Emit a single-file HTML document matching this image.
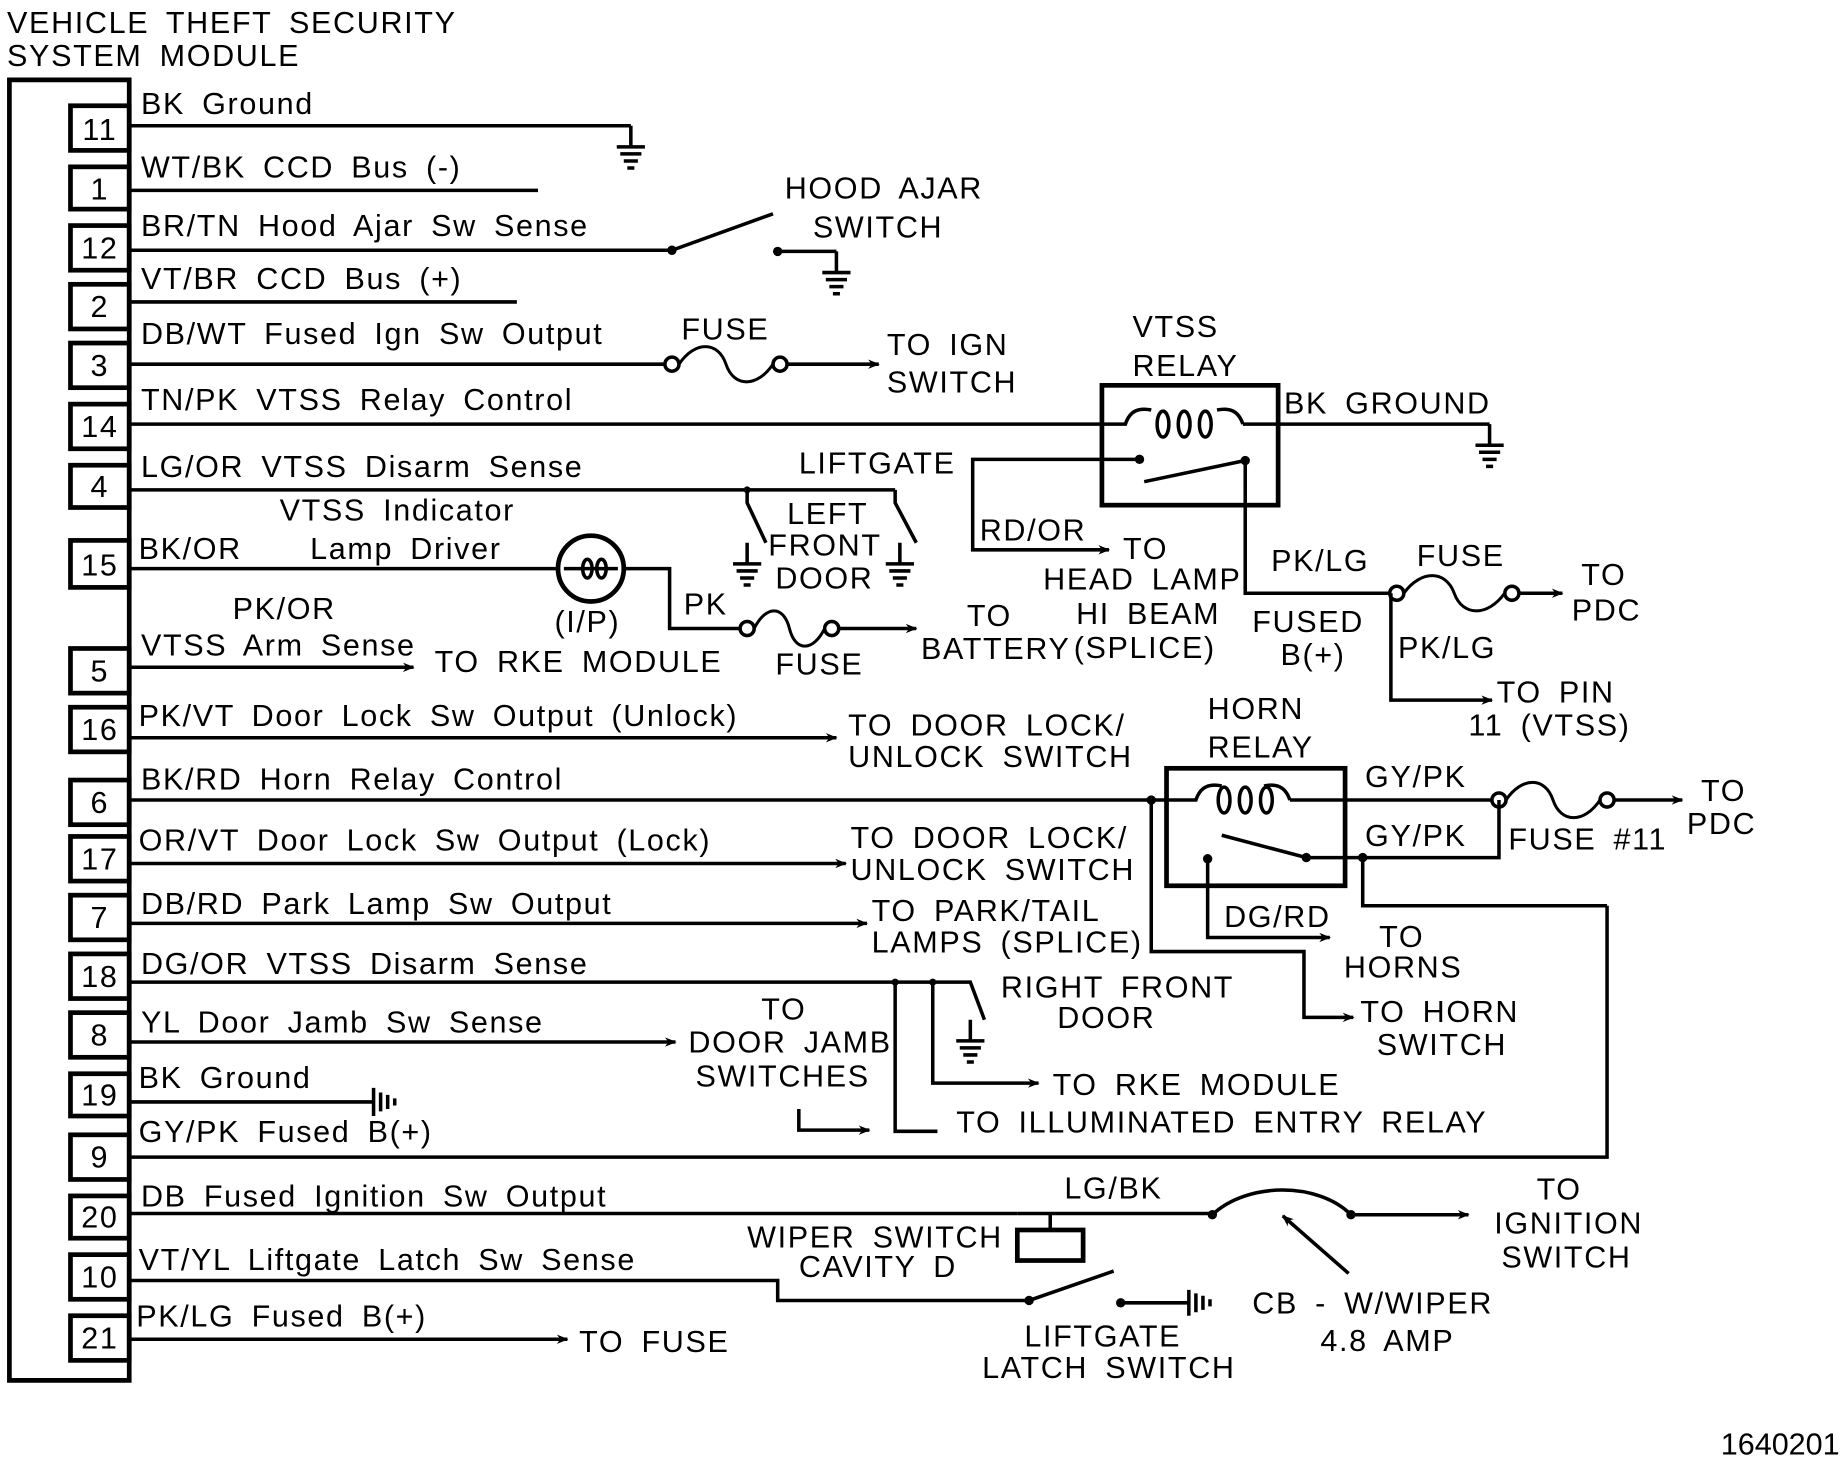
<!DOCTYPE html>
<html><head><meta charset="utf-8"><style>
html,body{margin:0;padding:0;background:#fff;}
svg{display:block}
text{font-family:"Liberation Sans",sans-serif;font-size:26px;fill:#000;letter-spacing:1.4px;word-spacing:6px}
.w{stroke:#000;stroke-width:3;fill:none}
.t{stroke:#000;stroke-width:4;fill:none}
.pn{font-size:26px;text-anchor:middle}
</style></head><body>
<svg width="1842" height="1472" viewBox="0 0 1568 1253" xmlns="http://www.w3.org/2000/svg">
<defs>
<marker id="a" markerWidth="10" markerHeight="8" refX="9" refY="4" orient="auto" markerUnits="userSpaceOnUse"><path d="M0,0 L10,4 L0,8 L3,4Z" fill="#000"/></marker>
<g id="gnd"><path class="w" d="M0,0 V18 M-12,18 H12 M-9,24 H9 M-6,30 H6 M-3,36 H3"/></g>
<g id="fuse"><path style="stroke:#000;stroke-width:3;fill:none;vector-effect:non-scaling-stroke" d="M0,0 c10,-20 25,-20 30,0 c5,20 20,20 30,0"/></g>
</defs>
<text x="6" y="28">VEHICLE THEFT SECURITY</text>
<text x="6" y="56">SYSTEM MODULE</text>
<path class="t" d="M8,68 H110 V1175 H8 Z"/>
<g class="t">
<rect x="60" y="90" width="50" height="38"/><rect x="60" y="142" width="50" height="36"/>
<rect x="60" y="192" width="50" height="38"/><rect x="60" y="242" width="50" height="38"/>
<rect x="60" y="292" width="50" height="38"/><rect x="60" y="344" width="50" height="38"/>
<rect x="60" y="396" width="50" height="36"/><rect x="60" y="460" width="50" height="40"/>
<rect x="60" y="552" width="50" height="38"/><rect x="60" y="602" width="50" height="38"/>
<rect x="60" y="664" width="50" height="38"/><rect x="60" y="712" width="50" height="38"/>
<rect x="60" y="762" width="50" height="38"/><rect x="60" y="812" width="50" height="38"/>
<rect x="60" y="862" width="50" height="38"/><rect x="60" y="914" width="50" height="36"/>
<rect x="60" y="966" width="50" height="38"/><rect x="60" y="1018" width="50" height="36"/>
<rect x="60" y="1068" width="50" height="38"/><rect x="60" y="1120" width="50" height="38"/>
</g>
<g class="pn">
<text x="85" y="119">11</text><text x="85" y="170">1</text><text x="85" y="220">12</text><text x="85" y="270">2</text>
<text x="85" y="320">3</text><text x="85" y="372">14</text><text x="85" y="423">4</text><text x="85" y="490">15</text>
<text x="85" y="580">5</text><text x="85" y="630">16</text><text x="85" y="692">6</text><text x="85" y="740">17</text>
<text x="85" y="790">7</text><text x="85" y="840">18</text><text x="85" y="890">8</text><text x="85" y="941">19</text>
<text x="85" y="994">9</text><text x="85" y="1045">20</text><text x="85" y="1096">10</text><text x="85" y="1148">21</text>
</g>
<text x="120" y="97">BK Ground</text>
<text x="120" y="151">WT/BK CCD Bus (-)</text>
<text x="120" y="201">BR/TN Hood Ajar Sw Sense</text>
<text x="120" y="246">VT/BR CCD Bus (+)</text>
<text x="120" y="293">DB/WT Fused Ign Sw Output</text>
<text x="120" y="349">TN/PK VTSS Relay Control</text>
<text x="120" y="406">LG/OR VTSS Disarm Sense</text>
<text x="238" y="443">VTSS Indicator</text>
<text x="118" y="476">BK/OR</text><text x="264" y="476">Lamp Driver</text>
<text x="198" y="527">PK/OR</text>
<text x="120" y="558">VTSS Arm Sense</text>
<text x="118" y="618">PK/VT Door Lock Sw Output (Unlock)</text>
<text x="120" y="672">BK/RD Horn Relay Control</text>
<text x="118" y="724">OR/VT Door Lock Sw  Output (Lock)</text>
<text x="120" y="778">DB/RD Park Lamp Sw Output</text>
<text x="120" y="829">DG/OR VTSS Disarm Sense</text>
<text x="120" y="879">YL Door Jamb Sw Sense</text>
<text x="118" y="926">BK Ground</text>
<text x="118" y="972">GY/PK Fused B(+)</text>
<text x="120" y="1027">DB Fused Ignition Sw Output</text>
<text x="118" y="1081">VT/YL Liftgate Latch Sw Sense</text>
<text x="116" y="1129">PK/LG Fused B(+)</text>
<path class="w" d="M110,107 H537"/><use href="#gnd" x="537" y="107"/>
<path class="w" d="M110,162 H458"/>
<path class="w" d="M110,213 H572 L658,182 M662,214 H712"/><circle cx="572" cy="213" r="4"/><circle cx="662" cy="214" r="4"/><use href="#gnd" x="712" y="214"/>
<text x="668" y="169">HOOD AJAR</text><text x="692" y="202">SWITCH</text>
<path class="w" d="M110,310 H566"/><path class="w" d="M110,257 H440"/>
<circle cx="572" cy="310" r="6" class="w"/><g transform="translate(578,310) scale(1.333,1)"><use href="#fuse"/></g><circle cx="664" cy="310" r="6" class="w"/><path class="w" d="M670,310 H748" marker-end="url(#a)"/>
<text x="580" y="289">FUSE</text><text x="755" y="302">TO IGN</text><text x="755" y="334">SWITCH</text>
<text x="964" y="287">VTSS</text><text x="964" y="320">RELAY</text>
<rect x="938" y="328" width="150" height="102" class="t"/>
<path class="w" d="M110,361 H958 c4,-12 12,-14 22,-12 M1058,361 c-4,-12 -12,-14 -22,-12 M1058,361 H1268"/>
<ellipse cx="990" cy="361" rx="5" ry="11" class="w"/><ellipse cx="1008" cy="361" rx="5" ry="11" class="w"/><ellipse cx="1026" cy="361" rx="5" ry="11" class="w"/>
<use href="#gnd" x="1268" y="361"/>
<text x="1093" y="352">BK GROUND</text>
<circle cx="970" cy="391" r="4"/><circle cx="1060" cy="392" r="4"/>
<path class="w" d="M970,391 H828 V468 H944" marker-end="url(#a)"/>
<path class="w" d="M974,410 L1060,392 M1060,392 V505 H1184 M1184,505 V596 H1270" marker-end="url(#a)"/>
<circle cx="1189" cy="505" r="6" class="w"/><g transform="translate(1195,505) scale(1.43,1)"><use href="#fuse"/></g><circle cx="1287" cy="505" r="6" class="w"/><path class="w" d="M1293,505 H1330" marker-end="url(#a)"/>
<text x="834" y="460">RD/OR</text><text x="956" y="476">TO</text>
<text x="888" y="502">HEAD LAMP</text><text x="916" y="531">HI BEAM</text><text x="914" y="560">(SPLICE)</text>
<text x="1082" y="486">PK/LG</text><text x="1206" y="482">FUSE</text><text x="1346" y="498">TO</text><text x="1338" y="528">PDC</text>
<text x="1066" y="538">FUSED</text><text x="1090" y="566">B(+)</text><text x="1190" y="560">PK/LG</text>
<text x="1274" y="598">TO PIN</text><text x="1250" y="626">11 (VTSS)</text>
<path class="w" d="M110,417 H762 M636,417 V428 L652,462 M762,417 V428 L780,462"/>
<circle cx="636" cy="417" r="3"/>
<use href="#gnd" x="636" y="462"/><use href="#gnd" x="766" y="462"/>
<text x="680" y="403">LIFTGATE</text><text x="670" y="446">LEFT</text><text x="654" y="473">FRONT</text><text x="660" y="501">DOOR</text>
<path class="w" d="M110,484 H475 M531,484 H570 V535 H630"/>
<circle cx="503" cy="484" r="28" class="t"/>
<path class="w" d="M480,484 H526"/><ellipse cx="500" cy="484" rx="4" ry="8" class="w"/><ellipse cx="512" cy="484" rx="4" ry="8" class="w"/>
<text x="472" y="538">(I/P)</text><text x="582" y="523">PK</text>
<circle cx="636" cy="535" r="6" class="w"/><use href="#fuse" x="642" y="535"/><circle cx="708" cy="535" r="6" class="w"/><path class="w" d="M714,535 H780" marker-end="url(#a)"/>
<text x="660" y="574">FUSE</text><text x="823" y="533">TO</text><text x="784" y="561">BATTERY</text>
<path class="w" d="M110,568 H352" marker-end="url(#a)"/><text x="370" y="572">TO RKE MODULE</text>
<path class="w" d="M110,628 H712" marker-end="url(#a)"/><text x="722" y="626">TO DOOR LOCK/</text><text x="722" y="653">UNLOCK SWITCH</text>
<text x="1028" y="612">HORN</text><text x="1028" y="645">RELAY</text>
<rect x="993" y="654" width="152" height="100" class="t"/>
<path class="w" d="M110,681 H1018 c4,-12 12,-14 22,-12 M1098,681 c-4,-12 -12,-14 -22,-12 M1098,681 H1270"/>
<ellipse cx="1042" cy="681" rx="5" ry="11" class="w"/><ellipse cx="1060" cy="681" rx="5" ry="11" class="w"/><ellipse cx="1078" cy="681" rx="5" ry="11" class="w"/>
<circle cx="980" cy="681" r="4"/>
<path class="w" d="M980,681 V810 H1110 V866 H1152" marker-end="url(#a)"/>
<circle cx="1028" cy="731" r="4"/><path class="w" d="M1028,731 V798 H1132" marker-end="url(#a)"/>
<path class="w" d="M1040,711 L1112,730 H1276 V681 M1160,730 V771 H1368"/><circle cx="1112" cy="730" r="4"/><circle cx="1160" cy="730" r="4"/>
<circle cx="1276" cy="681" r="6" class="w"/><g transform="translate(1282,681) scale(1.333,1)"><use href="#fuse"/></g><circle cx="1368" cy="681" r="6" class="w"/><path class="w" d="M1374,681 H1432" marker-end="url(#a)"/>
<text x="1162" y="670">GY/PK</text><text x="1162" y="720">GY/PK</text><text x="1284" y="723">FUSE #11</text>
<text x="1448" y="682">TO</text><text x="1436" y="710">PDC</text>
<text x="1042" y="789">DG/RD</text><text x="1174" y="806">TO</text><text x="1144" y="832">HORNS</text>
<text x="1158" y="870">TO HORN</text><text x="1172" y="898">SWITCH</text>
<path class="w" d="M110,735 H720" marker-end="url(#a)"/><text x="724" y="722">TO DOOR LOCK/</text><text x="724" y="749">UNLOCK SWITCH</text>
<path class="w" d="M110,786 H738" marker-end="url(#a)"/><text x="742" y="784">TO PARK/TAIL</text><text x="742" y="811">LAMPS (SPLICE)</text>
<path class="w" d="M110,836 H826 L838,868 M762,836 V963 H798 M794,836 V922 H884" marker-end="url(#a)"/>
<circle cx="762" cy="836" r="3"/><circle cx="794" cy="836" r="3"/>
<use href="#gnd" x="826" y="868"/>
<text x="852" y="849">RIGHT FRONT</text><text x="900" y="875">DOOR</text>
<text x="896" y="932">TO RKE MODULE</text><text x="814" y="964">TO ILLUMINATED ENTRY RELAY</text>
<path class="w" d="M110,887 H575" marker-end="url(#a)"/>
<text x="648" y="868">TO</text><text x="586" y="896">DOOR JAMB</text><text x="592" y="925">SWITCHES</text>
<path class="w" d="M680,944 V962 H740" marker-end="url(#a)"/>
<path class="w" d="M110,938 H318 M318,926 V950 M324,930 V946 M330,932 V944 M336,935 V941"/>
<path class="w" d="M110,985 H1368 V771"/>
<path class="w" d="M110,1033 H866"/>
<rect x="866" y="1047" width="56" height="26" class="t"/>
<path class="w" d="M894,1033 V1047 M866,1033 H1032 M1032,1034 c30,-28 90,-28 118,0 H1250" marker-end="url(#a)"/>
<circle cx="1032" cy="1034" r="4"/><circle cx="1150" cy="1034" r="4"/>
<path class="w" d="M1148,1084 L1092,1035" marker-end="url(#a)"/>
<text x="906" y="1020">LG/BK</text><text x="636" y="1062">WIPER SWITCH</text><text x="680" y="1087">CAVITY D</text>
<text x="1308" y="1021">TO</text><text x="1272" y="1050">IGNITION</text><text x="1278" y="1079">SWITCH</text>
<text x="1066" y="1118">CB - W/WIPER</text><text x="1124" y="1150">4.8 AMP</text>
<path class="w" d="M110,1090 H662 V1107 H876 L948,1082"/><circle cx="876" cy="1107" r="4"/>
<circle cx="954" cy="1109" r="4"/><path class="w" d="M954,1109 H1012 M1012,1098 V1120 M1018,1101 V1117 M1024,1103 V1115 M1030,1106 V1112"/>
<text x="872" y="1146">LIFTGATE</text><text x="836" y="1173">LATCH SWITCH</text>
<path class="w" d="M110,1140 H483" marker-end="url(#a)"/><text x="493" y="1151">TO FUSE</text>
<text x="1566" y="1238" style="letter-spacing:0;text-anchor:end">1640201</text>
</svg>
</body></html>
